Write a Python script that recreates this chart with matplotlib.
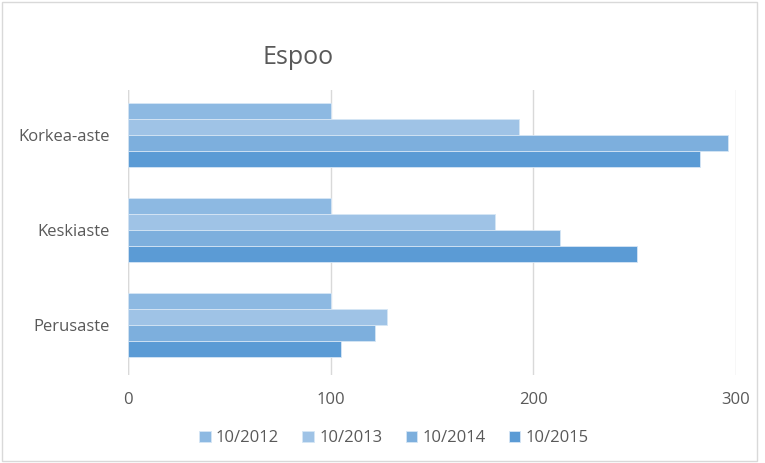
import matplotlib.pyplot as plt
import numpy as np
from matplotlib.patches import Rectangle

categories = ["Perusaste", "Keskiaste", "Korkea-aste"]
years = ["10/2012", "10/2013", "10/2014", "10/2015"]
v2012 = [100, 100, 100]
v2013 = [128, 181, 193]
v2014 = [122, 213, 296]
v2015 = [105, 251, 282]
colors = ["#8DB9E2", "#9FC3E6", "#7DAFDD", "#5B9BD5"]

plt.rcParams["font.family"] = ["Open Sans", "DejaVu Sans"]
txt = "#595959"

fig = plt.figure(figsize=(7.65, 4.63), dpi=100)
fig.patches.append(Rectangle((0.002, 0.004), 0.987, 0.992, transform=fig.transFigure,
                             fill=False, edgecolor="#D9D9D9", linewidth=1))
ax = fig.add_axes([0.1673, 0.190, 0.7948, 0.6156])

y = np.arange(len(categories))
h = 0.168
for i, (lab, vals) in enumerate(zip(years, [v2012, v2013, v2014, v2015])):
    ax.barh(y + (1.5 - i) * h, vals, height=h, color=colors[i], label=lab,
            edgecolor="#D6E6F5", linewidth=0.6, zorder=3)

ax.set_xlim(0, 300)
ax.set_ylim(-0.53, 2.47)
ax.set_xticks([0, 100, 200, 300])
ax.set_yticks(y)
ax.set_yticklabels(categories)
ax.grid(axis="x", color="#D9D9D9", linewidth=1, zorder=0)
ax.axvline(0, color="#D9D9D9", linewidth=1, zorder=1)
for s in ax.spines.values():
    s.set_visible(False)
ax.tick_params(length=0, colors=txt, labelsize=12)
ax.tick_params(axis="x", pad=12)
ax.tick_params(axis="y", pad=13)

fig.text(0.390, 0.875, "Espoo", ha="center", va="center", fontsize=18, color=txt)

fig.legend(loc="center", bbox_to_anchor=(0.515, 0.053), ncol=4, frameon=False,
           fontsize=12, labelcolor=txt, handlelength=0.7, handleheight=0.7,
           handletextpad=0.3, columnspacing=1.4)

fig.savefig("out.png", dpi=100)
